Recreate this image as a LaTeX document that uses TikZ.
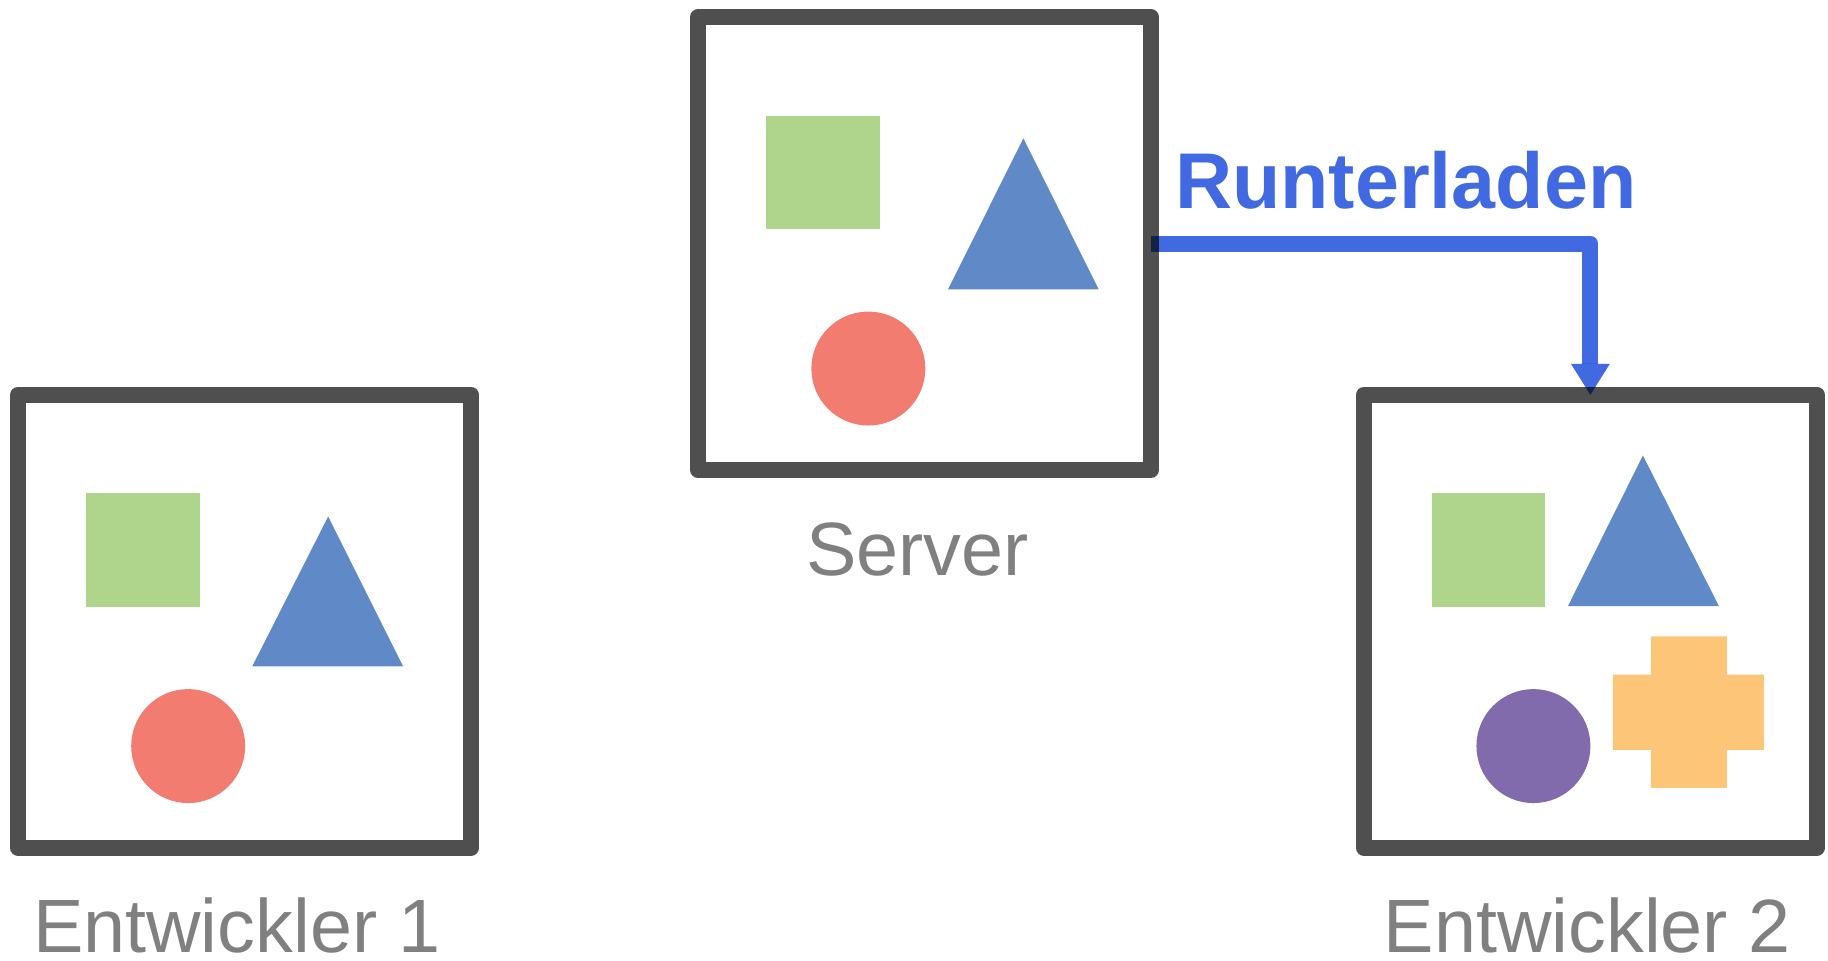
\documentclass[tikz,border=0pt]{standalone}
\usepackage{fontspec}
\setmainfont{Liberation Sans}
\usetikzlibrary{positioning,arrows.meta}
\definecolor{boxgray}{HTML}{4F4F4F}
\definecolor{namegray}{HTML}{808080}
\definecolor{sqgreen}{HTML}{AFD48B}
\definecolor{triblue}{HTML}{5F8AC7}
\definecolor{dotred}{HTML}{F37C70}
\definecolor{dotpurple}{HTML}{826BAD}
\definecolor{plusorange}{HTML}{FDC578}
\definecolor{loadblue}{HTML}{4169E1}

\begin{document}
\begin{tikzpicture}[x=0.02cm,y=-0.02cm,on grid,
		box/.style={draw=boxgray,line width=0.32cm,line join=round,minimum size=9.06cm,inner sep=0pt,outer sep=0pt},
		boxname/.style={text=namegray,inner sep=0pt,font=\fontsize{43}{50}\selectfont},
		sq/.style={fill=sqgreen,minimum size=2.27cm,inner sep=0pt},
		dot/.style={circle,minimum size=2.28cm,inner sep=0pt},
		tri/.style={fill=triblue},
		load/.style={draw=loadblue,line width=0.32cm,line join=round,-{Triangle[width=0.78cm,length=0.62cm,line width=0pt]}}]
	\useasboundingbox (0,0) rectangle (1828,960);
			\node[box] (0) at (924.5,243.5) {};
			\node[box] (1) [below left=7.556cm and 13.6cm of 0] {};
			\node[box] (2) [below right=7.556cm and 13.32cm of 0] {};
			\node[boxname] (3) [below left=6.64cm and 0.14cm of 0,anchor=base] {Server};
			\node[boxname] (4) [below left=6.62cm and 0.16cm of 1,anchor=base] {Entwickler 1};
			\node[boxname] (5) [below left=6.62cm and 0.06cm of 2,anchor=base] {Entwickler 2};
			% server
			\begin{scope}[shift={(0.north west)}]
				\node[sq] (6) at (124.8,155.3) {};
				\fill[tri] (325.3,121.3) -- (400.7,272.3) -- (250,272.3) -- cycle;
				\node[dot,fill=dotred] (7) at (170.3,351.5) {};
			\end{scope}
			% entwickler 1
			\begin{scope}[shift={(1.north west)}]
				\node[sq] (8) at (124.8,155.3) {};
				\fill[tri] (310,121.7) -- (385,271.7) -- (234,271.7) -- cycle;
				\node[dot,fill=dotred] (9) at (170,351.3) {};
			\end{scope}
			% entwickler 2
			\begin{scope}[shift={(2.north west)}]
				\node[sq] (10) at (124.8,155.3) {};
				\fill[tri] (279,60.7) -- (355,211.4) -- (204,211.4) -- cycle;
				\node[dot,fill=dotpurple] (11) at (169.5,351.3) {};
				\fill[plusorange] (287,241.7) rectangle (363,393.2) (249,279.8) rectangle (400,355.1);
			\end{scope}
			\begin{scope}[blend mode=multiply]
				\draw[load] (0.east) -| node[pos=.29,above=0.52cm,inner sep=0pt,text=loadblue,font=\fontsize{45}{50}\selectfont\bfseries] {Runterladen} (2.north);
			\end{scope}
\end{tikzpicture}
\end{document}
